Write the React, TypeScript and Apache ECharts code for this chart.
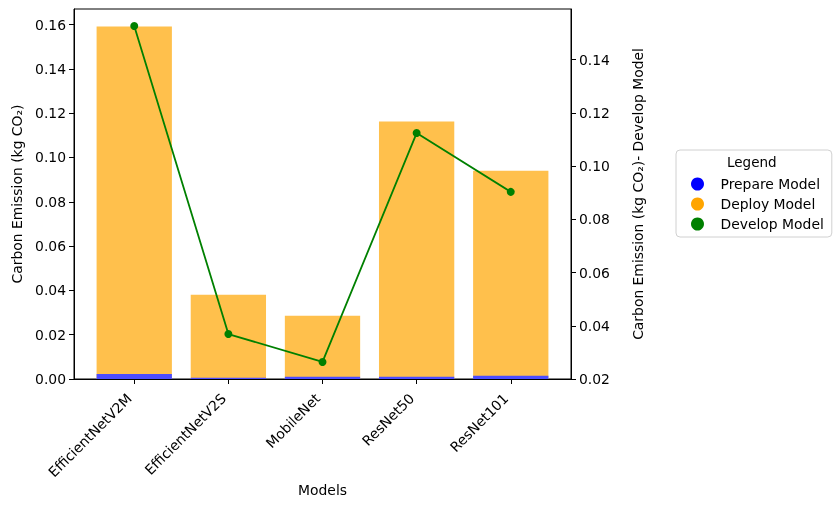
import React, { useEffect, useRef } from "react";
import * as echarts from "echarts";

const categories = ["EfficientNetV2M", "EfficientNetV2S", "MobileNet", "ResNet50", "ResNet101"];
const prepareValues = [0.0023, 0.0006, 0.001, 0.001, 0.0015];
const deployValues = [0.1568, 0.0374, 0.0275, 0.1152, 0.0925];
const developValues = [0.1526, 0.0369, 0.0264, 0.1124, 0.0903];
const leftTicks = [0, 0.02, 0.04, 0.06, 0.08, 0.1, 0.12, 0.14, 0.16];
const rightTicks = [0.02, 0.04, 0.06, 0.08, 0.1, 0.12, 0.14];

const FONT = "DejaVu Sans";
const FS = 13.9;

export default function App() {
  const ref = useRef<HTMLDivElement>(null);
  useEffect(() => {
    if (!ref.current) return;
    const chart = echarts.init(ref.current, undefined, { renderer: "svg" });
    const idx = categories.map((_, i) => i);
    // stacked total (prepare at the bottom, deploy on top of it)
    const totalValues = deployValues.map((v, i) => v + prepareValues[i]);
    const axisCommon = {
      axisLine: { show: true, onZero: false, lineStyle: { color: "#000", width: 1 } },
      axisTick: { show: true, length: 5, lineStyle: { color: "#000" } },
      splitLine: { show: false },
    };
    chart.setOption({
      animation: false,
      textStyle: { fontFamily: FONT },
      grid: {
        left: 74,
        right: 268,
        top: 9,
        bottom: 128,
        show: true,
        borderColor: "#000",
        borderWidth: 1,
        backgroundColor: "transparent",
      },
      legend: {
        orient: "vertical",
        left: 676,
        top: 150,
        padding: [27, 8, 6, 15],
        itemGap: 6,
        itemWidth: 36,
        itemHeight: 13,
        icon: "circle",
        backgroundColor: "#fff",
        borderColor: "#d0d0d0",
        borderWidth: 1,
        borderRadius: 4,
        z: 2,
        textStyle: { fontFamily: FONT, fontSize: FS, color: "#000" },
        data: [
          { name: "Prepare Model", itemStyle: { color: "#0000ff", opacity: 1 } },
          { name: "Deploy Model", itemStyle: { color: "#ffa500", opacity: 1 } },
          { name: "Develop Model", itemStyle: { color: "#008000", opacity: 1 } },
        ],
      },
      graphic: [
        {
          type: "text",
          left: 727,
          top: 155,
          z: 100,
          style: { text: "Legend", fontFamily: FONT, fontSize: 13.5, fill: "#000" },
        },
      ],
      xAxis: {
        type: "value",
        min: -0.64,
        max: 4.64,
        ...axisCommon,
        axisTick: { ...axisCommon.axisTick, customValues: idx },
        axisLabel: {
          customValues: idx,
          rotate: 45,
          margin: 12,
          padding: [0, 7, 0, 0],
          fontFamily: FONT,
          fontSize: FS,
          color: "#000",
          formatter: (v: number) => categories[Math.round(v)] ?? "",
        },
        name: "Models",
        nameLocation: "middle",
        nameGap: 104,
        nameMoveOverlap: false,
        nameTextStyle: { fontFamily: FONT, fontSize: FS, color: "#000" },
      },
      yAxis: [
        {
          type: "value",
          min: 0,
          max: 0.167,
          position: "left",
          ...axisCommon,
          axisTick: { ...axisCommon.axisTick, customValues: leftTicks },
          axisLabel: {
            customValues: leftTicks,
            margin: 8,
            fontFamily: FONT,
            fontSize: FS,
            color: "#000",
            formatter: (v: number) => v.toFixed(2),
          },
          name: "Carbon Emission (kg CO₂)",
          nameLocation: "middle",
          nameGap: 48,
          nameTextStyle: { fontFamily: FONT, fontSize: FS, color: "#000" },
        },
        {
          type: "value",
          min: 0.02,
          max: 0.159,
          position: "right",
          ...axisCommon,
          axisTick: { ...axisCommon.axisTick, customValues: rightTicks },
          axisLabel: {
            customValues: rightTicks,
            margin: 8,
            fontFamily: FONT,
            fontSize: FS,
            color: "#000",
            formatter: (v: number) => v.toFixed(2),
          },
          name: "Carbon Emission (kg CO₂)- Develop Model",
          nameLocation: "middle",
          nameRotate: 90,
          nameGap: 60,
          nameTextStyle: { fontFamily: FONT, fontSize: FS, color: "#000" },
        },
      ],
      series: [
        {
          name: "Deploy Model",
          type: "bar",
          barWidth: "80%",
          barGap: "-100%",
          itemStyle: { color: "#ffc04c" },
          data: totalValues.map((v, i) => [i, v]),
          z: 2,
        },
        {
          name: "Prepare Model",
          type: "bar",
          barWidth: "80%",
          barGap: "-100%",
          itemStyle: { color: "#4c4cff" },
          data: prepareValues.map((v, i) => [i, v]),
          z: 3,
        },
        {
          name: "Develop Model",
          type: "line",
          yAxisIndex: 1,
          symbol: "circle",
          symbolSize: 8,
          lineStyle: { color: "#008000", width: 1.8 },
          itemStyle: { color: "#008000" },
          data: developValues.map((v, i) => [i, v]),
          z: 5,
        },
      ],
    });
    return () => chart.dispose();
  }, []);
  return (
    <div
      ref={ref}
      style={{ position: "fixed", left: 0, top: 0, width: 839, height: 507 }}
    />
  );
}
